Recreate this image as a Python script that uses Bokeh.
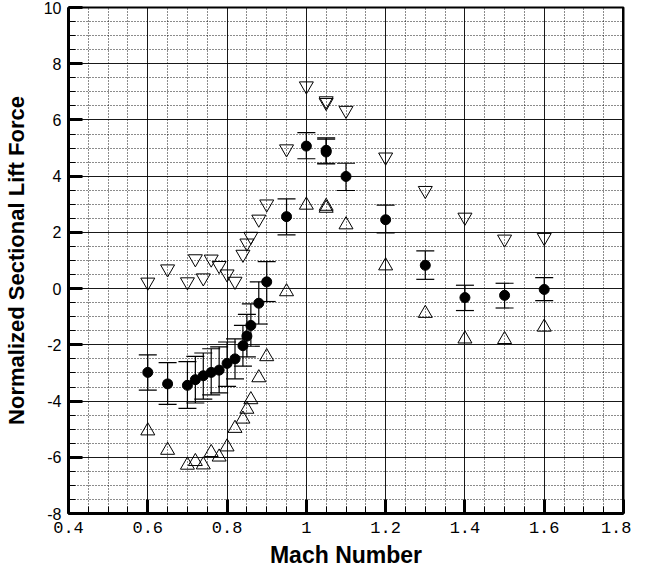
import numpy as np

from bokeh.embed import file_html
from bokeh.models import ColumnDataSource, FixedTicker, Span, TeeHead, Whisker
from bokeh.plotting import figure
from bokeh.resources import INLINE

# Mach numbers of the test points (1.05 was run twice)
mach = [0.60, 0.65, 0.70, 0.72, 0.74, 0.76, 0.78, 0.80, 0.82, 0.84, 0.85, 0.86,
        0.88, 0.90, 0.95, 1.00, 1.05, 1.05, 1.10, 1.20, 1.30, 1.40, 1.50, 1.60]

# mean normalized sectional lift force (filled circles)
lift_mean = [-2.98, -3.39, -3.44, -3.24, -3.10, -2.98, -2.90, -2.66, -2.50, -2.03, -1.69, -1.31,
             -0.52, 0.24, 2.56, 5.07, 4.92, 4.86, 3.99, 2.45, 0.83, -0.32, -0.24, -0.03]

# error bar ends
lift_upper = [-2.36, -2.63, -2.60, -2.41, -2.29, -2.14, -2.07, -1.90, -1.79, -1.31, -0.92, -0.54,
              0.24, 0.96, 3.19, 5.55, 5.36, 5.32, 4.46, 2.97, 1.34, 0.12, 0.19, 0.39]
lift_lower = [-3.61, -4.12, -4.26, -4.07, -3.93, -3.78, -3.71, -3.48, -3.21, -2.76, -2.43, -2.05,
              -1.26, -0.46, 1.91, 4.62, 4.46, 4.44, 3.49, 1.98, 0.33, -0.78, -0.69, -0.43]

# peak values (down triangles) and minimum values (up triangles)
lift_max = [0.23, 0.70, 0.24, 1.06, 0.38, 1.05, 0.82, 0.52, 0.26, 1.22, 1.62, 1.86,
            2.47, 3.01, 4.97, 7.21, 6.68, 6.62, 6.34, 4.68, 3.49, 2.54, 1.76, 1.82]
lift_min = [-5.06, -5.75, -6.28, -6.15, -6.27, -5.83, -5.99, -5.63, -4.97, -4.64, -4.29, -3.95,
            -3.17, -2.42, -0.11, 2.97, 2.93, 2.86, 2.27, 0.81, -0.88, -1.79, -1.81, -1.37]

x_ticks = [0.4, 0.6, 0.8, 1.0, 1.2, 1.4, 1.6, 1.8]
x_labels = ['0.4', '0.6', '0.8', '1', '1.2', '1.4', '1.6', '1.8']
y_ticks = [-8, -6, -4, -2, 0, 2, 4, 6, 8, 10]
y_labels = ['-8', '-6', '-4', '-2', '0', '2', '4', '6', '8', '10']

x_minor = [round(v, 2) for v in np.arange(0.40, 1.8001, 0.05) if round(v * 5, 4) % 1 != 0]
y_minor = [v for v in np.arange(-8.0, 10.01, 0.5) if v % 2 != 0]

source = ColumnDataSource(data=dict(mach=mach, mean=lift_mean, upper=lift_upper, lower=lift_lower,
                                    peak=lift_max, low=lift_min))

p = figure(width=631, height=570, x_range=(0.4, 1.8), y_range=(-8, 10),
           output_backend="svg", toolbar_location=None,
           min_border_left=61, min_border_right=8, min_border_top=7, min_border_bottom=30,
           background_fill_color="white", border_fill_color="white")

p.outline_line_color = "black"
p.outline_line_width = 2

# axes
p.xaxis.ticker = FixedTicker(ticks=x_ticks, minor_ticks=x_minor)
p.yaxis.ticker = FixedTicker(ticks=y_ticks, minor_ticks=y_minor)
p.xaxis.major_label_overrides = dict(zip(x_ticks, x_labels))
p.yaxis.major_label_overrides = dict(zip(y_ticks, y_labels))

for ax in (p.xaxis[0], p.yaxis[0]):
    ax.axis_line_width = 3
    ax.axis_line_color = "black"
    ax.major_tick_in = 14
    ax.major_tick_out = 0
    ax.major_tick_line_width = 3
    ax.major_tick_line_color = "black"
    ax.minor_tick_in = 7
    ax.minor_tick_out = 0
    ax.minor_tick_line_width = 1
    ax.minor_tick_line_color = "black"
    ax.major_label_text_color = "black"
    ax.axis_label_text_color = "black"
    ax.axis_label_text_font = "Liberation Sans"
    ax.axis_label_text_font_style = "bold"

p.xaxis.major_label_text_font = "Liberation Mono"
p.xaxis.major_label_text_font_size = "17px"
p.xaxis.major_label_standoff = 8
p.xaxis.axis_label = "Mach Number"
p.xaxis.axis_label_text_font_size = "23px"
p.xaxis.axis_label_standoff = 6

p.yaxis.major_label_text_font = "Liberation Sans"
p.yaxis.major_label_text_font_size = "16px"
p.yaxis.major_label_standoff = 7
p.yaxis.axis_label = "Normalized Sectional Lift Force"
p.yaxis.axis_label_text_font_size = "22px"
p.yaxis.axis_label_standoff = 12

# thick right border of the frame
p.add_layout(Span(location=1.8, dimension='height', line_color="black", line_width=3))

# grids: solid major, dotted minor
for g in (p.xgrid[0], p.ygrid[0]):
    g.grid_line_color = "black"
    g.grid_line_width = 1
    g.grid_line_alpha = 0.9
    g.minor_grid_line_color = "black"
    g.minor_grid_line_width = 1
    g.minor_grid_line_dash = "1 2"
    g.minor_grid_line_alpha = 0.9

p.scatter('mach', 'peak', source=source, marker="inverted_triangle", size=14,
          fill_color=None, line_color="black", line_width=1)
p.scatter('mach', 'low', source=source, marker="triangle", size=14,
          fill_color=None, line_color="black", line_width=1)

err = Whisker(base='mach', upper='upper', lower='lower', source=source,
              line_color="black", line_width=1.2,
              upper_head=TeeHead(size=18, line_color="black", line_width=1.2),
              lower_head=TeeHead(size=18, line_color="black", line_width=1.2))
p.add_layout(err)

p.scatter('mach', 'mean', source=source, marker="circle", size=10,
          fill_color="black", line_color="black")

open("out.html", "w").write(file_html(p, INLINE))
